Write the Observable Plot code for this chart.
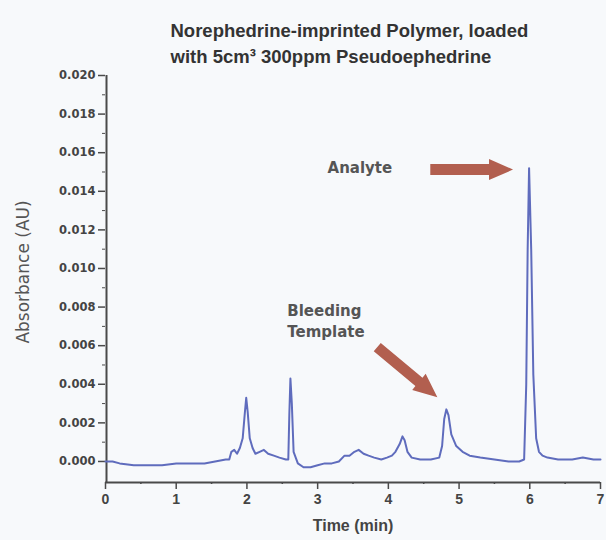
<!DOCTYPE html>
<html><head><meta charset="utf-8">
<script src="https://cdn.jsdelivr.net/npm/d3@7"></script>
<script src="https://cdn.jsdelivr.net/npm/@observablehq/plot@0.6"></script>
<style>
html,body{margin:0;padding:0;background:#f7f9fb;}
#chart svg{display:block;background:#f7f9fb;}
</style></head><body><div id="chart"></div>
<script>
// ---- data ----
const titleLine1 = "Norephedrine-imprinted Polymer, loaded";
const titleLine2 = "with 5cm\u00B3 300ppm Pseudoephedrine";
const xLabel = "Time (min)";
const yLabel = "Absorbance (AU)";
const xTicks = [0, 1, 2, 3, 4, 5, 6, 7];
const xMinorTicks = [0.5, 1.5, 2.5, 3.5, 4.5, 5.5, 6.5];
const yTicks = [0, 0.002, 0.004, 0.006, 0.008, 0.010, 0.012, 0.014, 0.016, 0.018, 0.020];
const yMinorTicks = [0.001, 0.003, 0.005, 0.007, 0.009, 0.011, 0.013, 0.015, 0.017, 0.019];

const time = [0.00,0.10,0.20,0.40,0.60,0.80,1.00,1.20,1.40,1.55,1.70,1.75,1.78,1.82,1.86,1.90,1.94,1.97,1.99,2.01,2.04,2.08,2.12,2.18,2.24,2.30,2.38,2.46,2.55,2.585,2.60,2.615,2.635,2.66,2.72,2.80,2.90,3.00,3.10,3.20,3.30,3.38,3.45,3.52,3.58,3.65,3.72,3.80,3.90,3.98,4.05,4.10,4.16,4.20,4.23,4.27,4.33,4.45,4.60,4.72,4.76,4.79,4.82,4.85,4.89,4.96,5.05,5.15,5.30,5.50,5.70,5.85,5.92,5.95,5.97,5.99,6.02,6.05,6.09,6.13,6.18,6.25,6.40,6.60,6.75,6.90,7.00];
const absorbance = [0.0000,0.0000,-0.0001,-0.0002,-0.0002,-0.0002,-0.0001,-0.0001,-0.0001,0.0000,0.0001,0.0001,0.0005,0.0006,0.0004,0.0007,0.0012,0.0025,0.0033,0.0026,0.0012,0.0007,0.0004,0.0005,0.0006,0.0004,0.0003,0.0002,0.0001,0.0001,0.0025,0.0043,0.0030,0.0005,-0.0001,-0.0003,-0.0003,-0.0002,-0.0001,-0.0001,0.0000,0.0003,0.0003,0.0005,0.0006,0.0004,0.0003,0.0002,0.0001,0.0002,0.0003,0.0005,0.0009,0.0013,0.0011,0.0005,0.0002,0.0001,0.0001,0.0002,0.0008,0.0022,0.0027,0.0024,0.0014,0.0008,0.0005,0.0003,0.0002,0.0001,0.0000,0.0000,0.0001,0.0040,0.0110,0.0152,0.0110,0.0045,0.0012,0.0005,0.0003,0.0002,0.0001,0.0001,0.0002,0.0001,0.0001];

const labelText = ["Analyte", "Bleeding", "Template"];
const labelX = [3.14, 2.57, 2.57];
const labelY = [0.0152, 0.0078, 0.0067];
const arrows = [
  {x1: 4.60, y1: 0.0151, x2: 5.77, y2: 0.0151},
  {x1: 3.85, y1: 0.0059, x2: 4.70, y2: 0.0033}
];

const yMin = -0.00109;
const arrowColor = "#b25f4f";
const lineColor = "#5f6cbd";
const axisColor = "#4a4a4a";

const series = time.map((t, i) => ({t, a: absorbance[i]}));
const labels = labelText.map((text, i) => ({text, x: labelX[i], y: labelY[i]}));

function blockArrows(index, scales) {
  const g = d3.create("svg:g").attr("fill", arrowColor);
  for (const a of arrows) {
    const x1 = scales.x(a.x1), y1 = scales.y(a.y1), x2 = scales.x(a.x2), y2 = scales.y(a.y2);
    const L = Math.hypot(x2 - x1, y2 - y1);
    const ang = Math.atan2(y2 - y1, x2 - x1) * 180 / Math.PI;
    const hw = 5.5, hl = 24, hh = 10.5;
    g.append("path")
      .attr("d", `M0,${-hw}L${L - hl},${-hw}L${L - hl},${-hh}L${L},0L${L - hl},${hh}L${L - hl},${hw}L0,${hw}Z`)
      .attr("transform", `translate(${x1},${y1}) rotate(${ang})`);
  }
  return g.node();
}

const chart = Plot.plot({
  width: 606,
  height: 540,
  marginLeft: 105,
  marginRight: 6,
  marginTop: 75,
  marginBottom: 58,
  style: {background: "#f7f9fb", fontFamily: "'Liberation Sans', Arial, sans-serif", color: axisColor},
  x: {domain: [0, 7]},
  y: {domain: [yMin, 0.020]},
  marks: [
    Plot.ruleY([yMin], {stroke: axisColor, strokeWidth: 2}),
    Plot.ruleX([0], {y1: yMin, y2: 0.020, stroke: axisColor, strokeWidth: 2, dx: 1}),
    Plot.axisY({ticks: yTicks, tickFormat: d3.format(".3f"), tickSize: 7, tickPadding: 3, fontSize: 11.5, fontWeight: "bold", fontFamily: "'DejaVu Sans', sans-serif", label: null, stroke: axisColor, fill: "#444", strokeWidth: 1.5, style: "letter-spacing:0.8px"}),
    Plot.axisY({ticks: yMinorTicks, tickFormat: () => "", tickSize: 3, label: null, stroke: axisColor}),
    Plot.axisX({ticks: xTicks, tickFormat: d => String(d), tickSize: 7, tickPadding: 5, fontSize: 14, fontWeight: "bold", label: null, stroke: axisColor, fill: "#444", strokeWidth: 1.5}),
    Plot.axisX({ticks: xMinorTicks, tickFormat: () => "", tickSize: 2, label: null, stroke: axisColor, strokeWidth: 1.5}),
    Plot.line(series, {x: "t", y: "a", stroke: lineColor, strokeWidth: 2}),
    blockArrows,
    Plot.text(labels, {x: "x", y: "y", text: "text", textAnchor: "start", fontSize: 15, fontWeight: "bold", fontFamily: "'DejaVu Sans', sans-serif", fill: "#555", style: "letter-spacing:0.4px"}),
    Plot.text([titleLine1], {frameAnchor: "top-left", dx: 65, dy: -44, textAnchor: "start", lineAnchor: "middle", fontSize: 18.5, fontWeight: "bold", fill: "#333", style: "letter-spacing:-0.9px"}),
    Plot.text([titleLine2], {frameAnchor: "top-left", dx: 65, dy: -18, textAnchor: "start", lineAnchor: "middle", fontSize: 18.5, fontWeight: "bold", fill: "#333"}),
    Plot.text([yLabel], {frameAnchor: "left", dx: -82, dy: -7, rotate: -90, textAnchor: "middle", lineAnchor: "middle", fontSize: 17, fontFamily: "'DejaVu Sans', sans-serif", fill: "#555", style: "letter-spacing:1.2px"}),
    Plot.text([xLabel], {frameAnchor: "bottom", dy: 43, lineAnchor: "middle", fontSize: 16, fontWeight: "bold", fill: "#444"})
  ]
});
document.getElementById("chart").appendChild(chart);
</script>
</body></html>
